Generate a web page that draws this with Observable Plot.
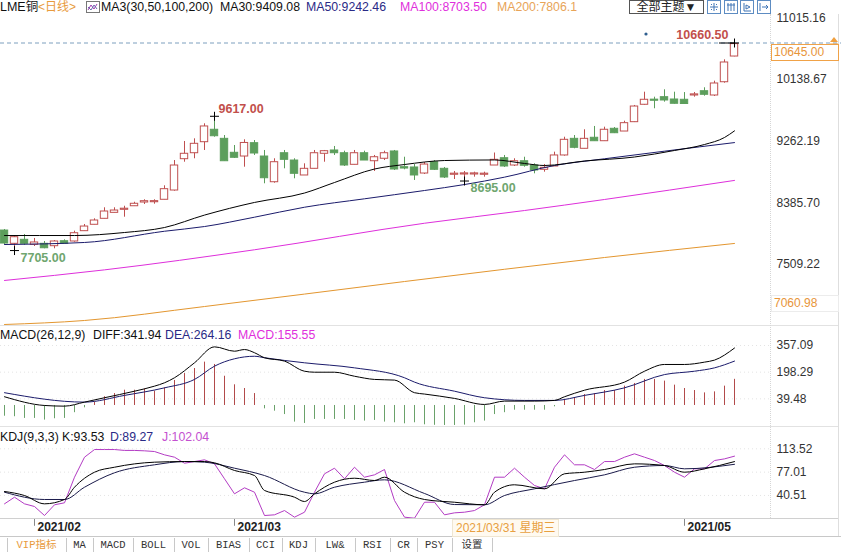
<!DOCTYPE html>
<html><head><meta charset="utf-8">
<script src="https://cdn.jsdelivr.net/npm/d3@7"></script>
<script src="https://cdn.jsdelivr.net/npm/@observablehq/plot@0.6"></script>
<style>
body{margin:0;background:#fff;}
#wrap{position:relative;width:841px;height:552px;overflow:hidden;background:#fff;font-family:Arial,"Liberation Sans","Noto Sans CJK SC",sans-serif;font-size:12px;color:#222;}
.a{position:absolute;white-space:nowrap;}
.tab{position:absolute;top:538px;height:14px;line-height:14px;font-family:"Liberation Mono","Noto Sans CJK SC",monospace;font-size:10.5px;color:#333;transform:translateX(-50%);}
.sep{position:absolute;top:538px;width:1px;height:14px;background:#c8c8c8;}
.ib{position:absolute;top:0;width:12px;height:12px;border:1px solid #5d8cc2;}
</style></head><body><div id="wrap"></div>
<script>
// ---------- data ----------
const open  = [7990,7801,7858,7787,7801,7767,7838,7834,7981,8072, 8157,8242,8285,8336,8389,8393,8428,8560,9006,9091, 9248,9425,9296,9097,9044,9234,9044,8678,9091,8987, 8774,8869,9083,9130,9091,8926,9091,8977,9012,9116, 8892,8888,8802,8963,8869,8784,8788,8788,8784,8916, 9020,8916,8977,8916,8855,8902,9059,9296,9154,9311, 9262,9439,9400,9533,9781,9846,9889,9856,9852,9913, 9974,9913,10102,10468];
const high  = [8005,7919,7933,7877,7834,7848,7858,7981,8076,8157, 8314,8314,8336,8393,8428,8428,8627,8987,9258,9296, 9510,9617,9343,9201,9282,9272,9130,9012,9130,9012, 8940,9130,9130,9187,9120,9130,9120,9059,9120,9130, 9034,8930,8959,8987,8888,8831,8831,8821,8821,9094, 9059,9012,9034,8940,8930,9106,9319,9343,9425,9472, 9462,9457,9547,9771,9960,9889,9994,9960,9955,9956, 10023,10117,10421,10660.5];
const low   = [7791,7705,7777,7763,7730,7730,7791,7824,7981,8072, 8157,8242,8180,8336,8361,8365,8428,8550,8963,9012, 9130,9319,8977,9016,8892,9059,8656,8664,8869,8727, 8774,8869,8963,9059,8902,8926,8987,8831,8987,8845, 8855,8703,8788,8845,8731,8717,8695,8750,8750,8916, 8888,8902,8892,8798,8821,8902,9049,9154,9154,9262, 9262,9371,9400,9528,9775,9724,9818,9790,9788,9889, 9903,9899,10088,10464];
const close = [7805,7895,7801,7820,7738,7834,7801,7952,8047,8133, 8261,8275,8300,8371,8408,8405,8579,8916,9083,9225, 9472,9333,8977,9026,9237,9087,8735,8963,8997,8798, 8869,9091,9120,9091,8916,9091,8987,9034,9091,8859, 8873,8774,8930,8855,8745,8798,8802,8802,8798,8997, 8902,8977,8912,8845,8883,9059,9282,9168,9296,9262, 9425,9376,9519,9756,9852,9838,9842,9795,9792,9927, 9923,10084,10383,10645];

const ma30Idx  = [0,7,12,16,20,25,30,33,37,40,44,49,52,54,58,63,67,70,72,73];
const ma30     = [7919,7919,7962,8033,8210,8390,8524,8674,8866,8930,8987,8995,8945,8916,8980,9037,9130,9215,9315,9409.08];
const ma50Idx  = [0,8,16,20,25,30,36,42,46,50,55,60,66,73];
const ma50     = [7791,7820,7980,8047,8180,8322,8442,8560,8645,8750,8916,9012,9120,9242.46];
const ma100Idx = [0,10,25,42,52,60,73];
const ma100    = [7279,7430,7716,8094,8275,8432,8703.5];
const ma200Idx = [0,8,20,40,60,73];
const ma200    = [6652,6709,6908,7264,7606,7806.1];

const priceTicks = [11015.16,10138.67,9262.19,8385.70,7509.22];
const lastPrice = 10645.00;
const rangeLow = 7060.98;
const extremeIdx  = [1,21,46,73];
const extremeKind = ["low","high","low","high"];

const macdHist = [-64,-67,-77,-77,-87,-79,-77,-43,-14,20, 52,71,91,91,99,85,105,149,190,220, 258,244,174,123,101,71,-20,-34,-54,-99, -107,-83,-83,-83,-83,-89,-93,-89,-99,-103, -109,-103,-115,-118,-119,-119,-117,-103,-93,-54, -43,-28,-28,-28,-28,-8,36,46,65,71, 89,89,115,131,155,155,145,121,101,89, 75,81,115,155.55];
const diffIdx = [0,4,6,8,10,13,15,16,17,19,21,23,24,25,26,28,30,31,33,35,37,39,41,42,45,48,50,53,55,56,58,62,64,66,68,70,71,73];
const diff    = [52,0,-4,20,46,85,115,135,165,254,349,323,333,314,284,264,204,198,198,174,155,151,76,68,42,6,26,26,30,52,91,139,204,244,244,258,270,341.94];
const deaIdx  = [0,8,12,16,19,21,23,25,26,30,35,40,41,45,48,52,55,58,62,66,69,71,73];
const dea     = [76,20,60,105,155,234,278,293,284,254,224,165,139,85,46,30,30,60,105,184,204,224,264.16];
const macdTicks = [357.09,198.29,39.48];

const jVals = [27.4,37.8,27.4,23.2,9.1,25.9,29.0,69.1,100.4,112.4, 112.4,112.4,111.0,111.0,110.4,109.3,104.1,100.4,91.0,93.6, 96.3,90.0,66.6,43.1,52.5,45.6,9.1,10.2,16.9,6.5, 14.3,45.6,74.4,83.2,66.6,84.7,69.1,72.8,81.1,32.6, 6.5,4.9,29.9,29.9,10.2,13.3,14.3,16.9,25.9,69.1, 69.1,83.2,69.1,56.1,50.9,84.7,104.1,88.5,88.5,81.1, 93.6,93.6,100.4,105.7,100.4,95.2,87.4,76.9,69.1,82.2, 82.2,95.2,97.8,102.04];
const kIdx  = [0,2,4,6,7,9,11,15,18,20,21,23,25,26,29,30,31,33,35,37,38,40,42,45,48,49,51,54,56,58,60,63,66,68,70,73];
const kVals = [46.7,40.4,27.4,34.2,53.4,76.9,84.7,92.6,93.6,93.6,91.6,79.6,71.7,48.3,37.8,31.0,43.1,61.3,67.5,63.9,69.1,45.6,34.2,29.9,25.9,45.6,57.2,50.9,74.4,76.9,81.1,90.0,87.4,76.9,82.2,93.53];
const dIdx  = [0,4,6,8,11,15,18,20,23,26,30,31,33,36,38,42,45,48,50,53,57,60,63,66,68,73];
const dVals = [45.6,34.2,34.2,53.4,76.0,88.5,93.6,92.6,83.2,71.7,45.6,43.1,53.4,61.3,65.0,43.6,26.3,25.9,40.4,50.9,63.9,72.8,84.7,87.4,82.2,89.27];
const kdjTicks = [113.52,77.01,40.51];

const dateTickIdx = [3,23,68];
const dateTickLabels = ["2021/02","2021/03","2021/05"];
const cursorIdx = 45;
const cursorLabel = "2021/03/31 星期三";
const toolTabs = ["VIP指标","MA","MACD","BOLL","VOL","BIAS","CCI","KDJ","LW&","RSI","CR","PSY","设置"];

// ---------- styling ----------
const RED = "#bf4f4f", GREEN = "#5c9e5c";
const W = 841, MR = 71;
const XD = [-0.4, 76.6];
const fmt2 = d3.format(".2f");
const baseStyle = {background:"transparent", fontFamily:"Arial, 'Liberation Sans', sans-serif", fontSize:"12px", color:"#333", overflow:"visible"};
const pts = (ix, vs) => ix.map((i,k) => ({i, v: vs[k]}));
const wrap = document.getElementById("wrap");
function put(el, top, left=0){ el.style.position="absolute"; el.style.top=top+"px"; el.style.left=left+"px"; wrap.appendChild(el); }
function div(html, css){ const d=document.createElement("div"); d.className="a"; d.innerHTML=html; d.style.cssText += css; wrap.appendChild(d); return d; }

const candles = open.map((o,i) => ({i, o, h: high[i], l: low[i], c: close[i], up: close[i] >= o}));
const maxHigh = d3.max(high);
const extremes = extremeIdx.map((i,k) => ({i, kind: extremeKind[k], v: extremeKind[k]==="high" ? high[i] : low[i]}));
const lastI = open.length - 1;
const highsMid = extremes.filter(d => d.kind === "high" && d.i < lastI - 2);
const highsEnd = extremes.filter(d => d.kind === "high" && d.i >= lastI - 2);
const lows = extremes.filter(d => d.kind === "low");
const xRight = XD[1] + MR/10;
const lblFont = {fontWeight: "bold", fontSize: 12.5, fontFamily: "Arial, 'Liberation Sans', sans-serif"};

// ---------- main price panel ----------
const main = Plot.plot({
  width: W, height: 312, marginTop: 0, marginBottom: 0, marginLeft: 0, marginRight: MR,
  x: {domain: XD, axis: null},
  y: {domain: [6623.5, 11066.4], axis: null},
  style: baseStyle,
  marks: [
    Plot.ruleY([maxHigh], {x1: XD[0], x2: xRight, stroke: "#7d9fbe", strokeDasharray: "4,3"}),
    Plot.ruleX(candles, {x: "i", y1: "l", y2: "h", stroke: d => d.up ? RED : GREEN}),
    Plot.rect(candles, {x1: d => d.i - 0.37, x2: d => d.i + 0.37,
      y1: d => Math.min(d.o, d.c), y2: d => Math.max(Math.max(d.o, d.c), Math.min(d.o, d.c) + 16),
      fill: d => d.up ? "#ffffff" : GREEN, stroke: d => d.up ? RED : GREEN}),
    Plot.line(pts(ma200Idx, ma200), {x: "i", y: "v", stroke: "#e3962f", strokeWidth: 1, curve: "monotone-x"}),
    Plot.line(pts(ma100Idx, ma100), {x: "i", y: "v", stroke: "#de2fdb", strokeWidth: 1, curve: "monotone-x"}),
    Plot.line(pts(ma50Idx, ma50), {x: "i", y: "v", stroke: "#1b1b6b", strokeWidth: 1, curve: "monotone-x"}),
    Plot.line(pts(ma30Idx, ma30), {x: "i", y: "v", stroke: "#000000", strokeWidth: 1, curve: "monotone-x"}),
    Plot.ruleY(highsEnd, {y: "v", x1: d => d.i - 1.5, x2: d => d.i, stroke: "#000"}),
    Plot.dot(extremes, {x: "i", y: "v", symbol: "plus", r: 3, stroke: "#000", strokeWidth: 1}),
    Plot.text(highsMid, {x: "i", y: "v", text: d => fmt2(d.v), textAnchor: "start", dx: 4, dy: -7, fill: "#c24f4b", ...lblFont}),
    Plot.text(highsEnd, {x: "i", y: "v", text: d => fmt2(d.v), textAnchor: "end", dx: -6, dy: -8, fill: "#c24f4b", ...lblFont}),
    Plot.text(lows, {x: "i", y: "v", text: d => fmt2(d.v), textAnchor: "start", dx: 6, dy: 7, fill: "#6fa66f", ...lblFont}),
    Plot.axisY(priceTicks, {anchor: "right", tickSize: 0, tickPadding: 6, tickFormat: fmt2, label: null, fill: "#333", fontSize: 12})
  ]
});
put(main, 14);

// ---------- MACD panel ----------
const macdData = macdHist.map((v,i) => ({i, v}));
const macd = Plot.plot({
  width: W, height: 101, marginTop: 0, marginBottom: 0, marginLeft: 0, marginRight: MR,
  x: {domain: XD, axis: null},
  y: {domain: [-131.1, 470.1], axis: null},
  style: baseStyle,
  marks: [
    Plot.ruleY(macdTicks, {stroke: "#e4e4e4", strokeDasharray: "1,3"}),
    Plot.ruleX(macdData, {x: "i", y1: 0, y2: "v", stroke: d => d.v >= 0 ? "#b24a4a" : "#6aa26a", strokeWidth: 1}),
    Plot.line(pts(deaIdx, dea), {x: "i", y: "v", stroke: "#1b1b6b", strokeWidth: 1, curve: "monotone-x"}),
    Plot.line(pts(diffIdx, diff), {x: "i", y: "v", stroke: "#000", strokeWidth: 1, curve: "monotone-x"}),
    Plot.axisY(macdTicks, {anchor: "right", tickSize: 0, tickPadding: 6, tickFormat: fmt2, label: null, fill: "#333", fontSize: 12})
  ]
});
put(macd, 326);

// ---------- KDJ panel ----------
const kdj = Plot.plot({
  width: W, height: 92, marginTop: 0, marginBottom: 0, marginLeft: 0, marginRight: MR,
  x: {domain: XD, axis: null},
  y: {domain: [2.87, 146.9], axis: null},
  style: baseStyle,
  marks: [
    Plot.ruleY(kdjTicks, {stroke: "#e4e4e4", strokeDasharray: "1,3"}),
    Plot.line(jVals.map((v,i) => ({i, v})), {x: "i", y: "v", stroke: "#b33cc4", strokeWidth: 1}),
    Plot.line(pts(dIdx, dVals), {x: "i", y: "v", stroke: "#1b1b4b", strokeWidth: 1, curve: "monotone-x"}),
    Plot.line(pts(kIdx, kVals), {x: "i", y: "v", stroke: "#000", strokeWidth: 1, curve: "monotone-x"}),
    Plot.axisY(kdjTicks, {anchor: "right", tickSize: 0, tickPadding: 6, tickFormat: fmt2, label: null, fill: "#333", fontSize: 12})
  ]
});
put(kdj, 427);

// ---------- date row ----------
const dates = Plot.plot({
  width: W, height: 17, marginTop: 0, marginBottom: 0, marginLeft: 0, marginRight: MR,
  x: {domain: XD, axis: null},
  y: {domain: [0, 1], range: [0, 17], axis: null},
  style: baseStyle,
  marks: [
    Plot.ruleX(dateTickIdx, {x: d => d, y1: 0, y2: 0.4, stroke: "#888"}),
    Plot.text(dateTickIdx, {x: d => d, y: 0.47, text: (d,k) => dateTickLabels[k], textAnchor: "start", dx: 3, fontWeight: "bold", fontSize: 12, fill: "#222"})
  ]
});
put(dates, 519);

const xs = main.scale("x"), ys = main.scale("y");

// ---------- separators ----------
div("", "left:0;top:325px;width:838px;height:1px;background:#e2e2e2;");
div("", "left:0;top:426px;width:838px;height:1px;background:#e2e2e2;");
div("", "left:0;top:518px;width:838px;height:1px;background:#d0d0d0;");
div("", "left:0;top:536px;width:841px;height:1px;background:#c8c8c8;");
div("", "left:770px;top:14px;width:0;height:504px;border-left:1px dotted #d6d6d6;");
div("", "left:838px;top:14px;width:1px;height:522px;background:#dedede;");

// ---------- header ----------
div("LME铜", "left:0;top:0;line-height:14px;color:#111;font-size:12.5px;");
div("&lt;日线&gt;", "left:38px;top:0;line-height:14px;color:#e89a3c;font-size:12px;");
div('<svg width="14" height="12"><rect x="0.5" y="0.5" width="13" height="11" fill="none" stroke="#777"/><polyline points="2,9 5,4 8,8 11,3" fill="none" stroke="#a23fb0"/><polyline points="2,6 5,9 8,4 11,8" fill="none" stroke="#6a6ab0"/></svg>', "left:86px;top:1px;");
div("MA3(30,50,100,200)", "left:101px;top:0;line-height:14px;color:#111;font-size:12.3px;");
div("MA30:" + fmt2(ma30[ma30.length-1]), "left:220px;top:0;line-height:14px;color:#111;font-size:12.3px;");
div("MA50:" + fmt2(ma50[ma50.length-1]), "left:306px;top:0;line-height:14px;color:#2a2a86;font-size:12.3px;");
div("MA100:" + fmt2(ma100[ma100.length-1]), "left:400px;top:0;line-height:14px;color:#df2fdc;font-size:12.3px;");
div("MA200:" + ma200[ma200.length-1], "left:497px;top:0;line-height:14px;color:#e8a458;font-size:12.3px;");
div("全部主题▼", "left:629px;top:0;width:73px;height:12px;line-height:12px;border:1px solid #555;text-align:center;font-size:12px;color:#222;");
const iconSvgs = [
  '<svg width="12" height="12"><path d="M6 2v8M2 6h8M3 3l1 1M9 3l-1 1M3 9l1-1M9 9l-1-1" stroke="#3f74b5" fill="none"/></svg>',
  '<svg width="12" height="12"><path d="M3 2v8M6 2v8M9 2v8M2 4h8" stroke="#3f74b5" fill="none"/></svg>',
  '<svg width="12" height="12"><path d="M3 2v8h7M5 4l4 2-4 2z" stroke="#3f74b5" fill="none"/></svg>',
  '<svg width="12" height="12"><path d="M2 2v8M4 6h6M8 4l2 2-2 2" stroke="#3f74b5" fill="none"/></svg>'
];
[707,724,740,757].forEach((l,k) => { const d = div(iconSvgs[k], "left:"+l+"px;"); d.className = "ib"; d.style.left = l+"px"; });

// ---------- right-axis boxes & markers ----------
div(fmt2(lastPrice), "left:771px;top:" + (14 + ys.apply(lastPrice)).toFixed(1) + "px;width:64px;height:15px;line-height:15px;padding-left:2px;border:1px solid #f0a248;color:#e8953a;background:#fff;");
div(fmt2(rangeLow), "left:771px;top:" + (14 + ys.apply(rangeLow)).toFixed(1) + "px;width:64px;height:15px;line-height:15px;padding-left:2px;border:1px solid #ececec;color:#e8953a;background:#fff;");
div('<svg width="10" height="9"><path d="M5 1L9 6H1z" fill="#f0a040"/><path d="M1 8h8" stroke="#f0a040"/></svg>', "left:829px;top:" + (14 + ys.apply(maxHigh) - 9).toFixed(1) + "px;");
div('<svg width="4" height="4"><circle cx="2" cy="2" r="1.6" fill="#2f5f8f"/></svg>', "left:" + (xs.apply(64) - 0).toFixed(1) + "px;top:25px;");

// ---------- panel headers ----------
div("MACD(26,12,9)", "left:0;top:328px;line-height:14px;color:#111;font-size:12.3px;");
div("DIFF:" + fmt2(diff[diff.length-1]), "left:93px;top:328px;line-height:14px;color:#111;font-size:12.3px;");
div("DEA:" + fmt2(dea[dea.length-1]), "left:165px;top:328px;line-height:14px;color:#2a2a86;font-size:12.3px;");
div("MACD:" + fmt2(macdHist[macdHist.length-1]), "left:238px;top:328px;line-height:14px;color:#df2fdc;font-size:12.3px;");
div("KDJ(9,3,3)", "left:0;top:430px;line-height:14px;color:#111;font-size:12.3px;");
div("K:" + fmt2(kVals[kVals.length-1]), "left:62px;top:430px;line-height:14px;color:#111;font-size:12.3px;");
div("D:" + fmt2(dVals[dVals.length-1]), "left:110px;top:430px;line-height:14px;color:#2a2a86;font-size:12.3px;");
div("J:" + fmt2(jVals[jVals.length-1]), "left:162px;top:430px;line-height:14px;color:#c450d0;font-size:12.3px;");

// ---------- cursor date label ----------
div(cursorLabel, "left:" + (xs.apply(cursorIdx) - 2).toFixed(1) + "px;top:519px;height:16px;line-height:16px;padding:0 3px;background:#fffaf0;border:1px solid #efe6d2;color:#e8a040;");

// ---------- bottom toolbar ----------
const sepX = [7,66,93,133,174,208,249,282,315,355,390,417,452,492];
sepX.forEach(x => { const d = document.createElement("div"); d.className = "sep"; d.style.left = x + "px"; wrap.appendChild(d); });
toolTabs.forEach((t,k) => {
  const d = document.createElement("div"); d.className = "tab";
  d.textContent = t; d.style.left = ((sepX[k] + sepX[k+1]) / 2) + "px";
  if (k === 0) d.style.color = "#e89a3c";
  wrap.appendChild(d);
});
</script></body></html>
